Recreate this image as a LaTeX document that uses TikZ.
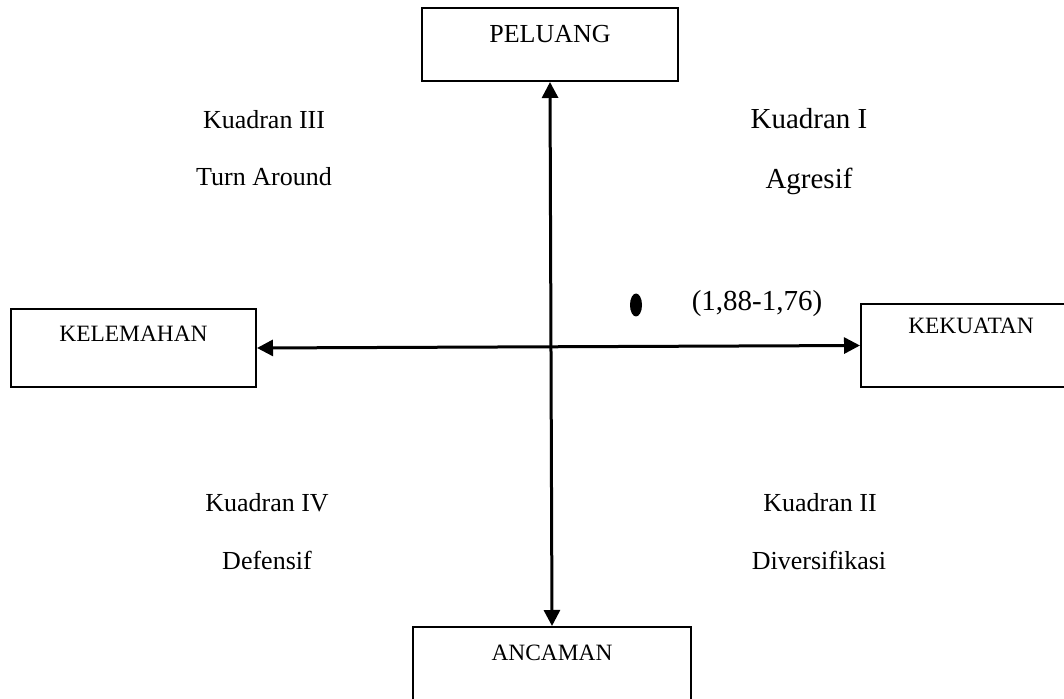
\documentclass[tikz,border=0pt]{standalone}
\usepackage{fontspec}
\setmainfont{Liberation Serif}
\usetikzlibrary{arrows.meta,shapes.geometric}

\tikzset{
  kotak/.style={draw, line width=1pt, inner ysep=0pt, anchor=base,
    font=\fontsize{11.7}{14}\selectfont},
  teks/.style={anchor=base, font=\fontsize{13}{15}\selectfont},
  teksbesar/.style={anchor=base, font=\fontsize{14.5}{17}\selectfont},
  panah/.style={line width=1.5pt,
    {Triangle[length=8pt,width=8pt]}-{Triangle[length=8pt,width=8pt]}}
}

\begin{document}
\begin{tikzpicture}[x=0.5pt,y=-0.5pt]
  \useasboundingbox (0,0) rectangle (1064,699);
  % kotak faktor
  \node[kotak, font=\fontsize{13}{15}\selectfont, minimum width=128pt,
    text height=17.5pt, text depth=19pt] (peluang) at (550,43) {PELUANG};
  \node[kotak, minimum width=122.5pt,
    text height=16.35pt, text depth=22.65pt] (kelemahan) at (133.5,341.7) {KELEMAHAN};
  \node[kotak, minimum width=110pt,
    text height=14.65pt, text depth=26.85pt] (kekuatan) at (971,333.3) {KEKUATAN};
  \node[kotak, minimum width=139pt,
    text height=16.5pt, text depth=25pt] (ancaman) at (552,660) {ANCAMAN};
  % sumbu
  \draw[panah] (peluang.south) -- (ancaman.north);
  \draw[panah] (kelemahan.east) -- (kekuatan.west);
  % kuadran
  \foreach \nama/\x/\y/\t in {k3/264/128.3/Kuadran III, s3/264/186/Turn Around,
      k4/267/511.7/Kuadran IV, s4/267/569.3/Defensif,
      k2/820/511.7/Kuadran II, s2/819/569.3/Diversifikasi} {
    \node[teks] (\nama) at (\x,\y) {\t};
  }
  \node[teksbesar] (k1) at (809,129) {Kuadran I};
  \node[teksbesar] (s1) at (809,189) {Agresif};
  % posisi
  \node[ellipse, fill, inner sep=0pt, minimum width=6pt, minimum height=11.5pt]
    (titik) at (636,305) {};
  \node[teksbesar] (nilai) at (757,311) {(1,88-1,76)};
\end{tikzpicture}
\end{document}
